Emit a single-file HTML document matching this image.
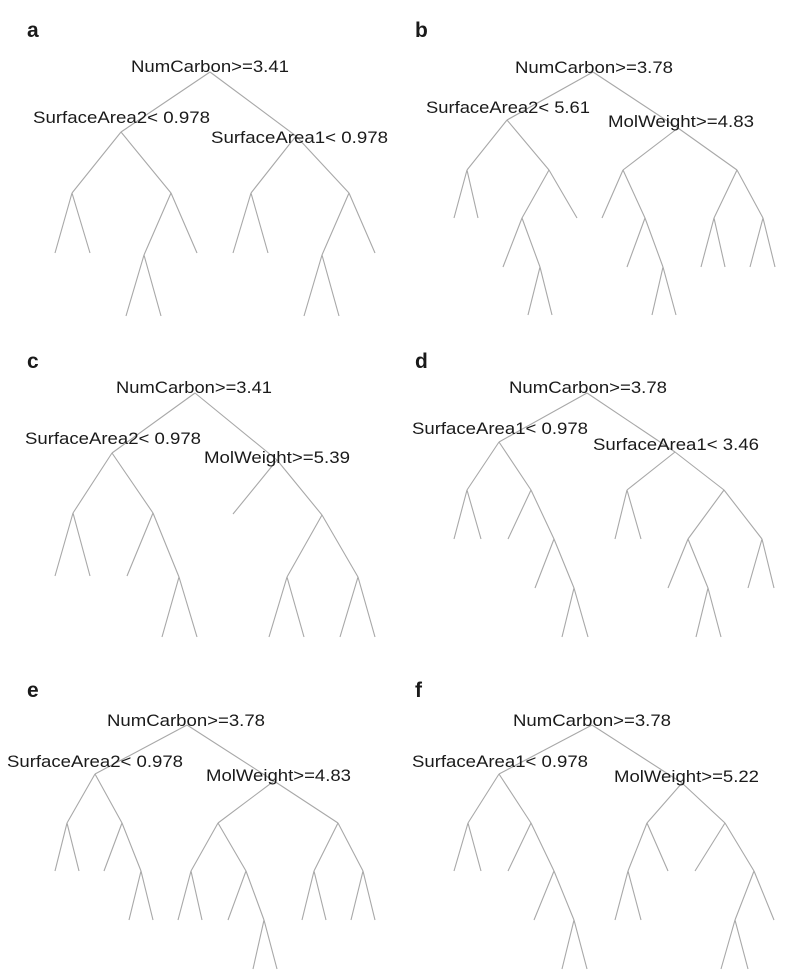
<!DOCTYPE html>
<html><head><meta charset="utf-8"><style>
html,body{margin:0;padding:0;background:#fff;}
svg{display:block;}
text{font-family:"Liberation Sans",Arial,sans-serif;fill:#1a1a1a;}
.t{font-size:17px;}
.p{font-size:21px;font-weight:bold;}
</style></head><body>
<svg width="790" height="973" viewBox="0 0 790 973" xmlns="http://www.w3.org/2000/svg">
<g fill="none" stroke="#a8a8a8" stroke-width="1.1">
<path d="M210 72L121 132 M210 72L296 136 M121 132L72 193 M121 132L171 193 M72 193L55 253 M72 193L90 253 M171 193L144 255 M171 193L197 253 M144 255L126 316 M144 255L161 316 M296 136L251 193 M296 136L349 193 M251 193L233 253 M251 193L268 253 M349 193L322 255 M349 193L375 253 M322 255L304 316 M322 255L339 316"/>
<path d="M593 72L507 120 M593 72L678 128 M507 120L467 170 M507 120L549 170 M467 170L454 218 M467 170L478 218 M549 170L522 218 M549 170L577 218 M522 218L503 267 M522 218L540 267 M540 267L528 315 M540 267L552 315 M678 128L623 170 M678 128L737 170 M623 170L602 218 M623 170L645 218 M645 218L627 267 M645 218L663 267 M663 267L652 315 M663 267L676 315 M737 170L714 218 M737 170L763 218 M714 218L701 267 M714 218L725 267 M763 218L750 267 M763 218L775 267"/>
<path d="M195 393L112 453 M195 393L277 460 M112 453L73 513 M112 453L153 513 M73 513L55 576 M73 513L90 576 M153 513L127 576 M153 513L179 577 M179 577L162 637 M179 577L197 637 M277 460L233 514 M277 460L322 515 M322 515L287 577 M322 515L358 577 M287 577L269 637 M287 577L304 637 M358 577L340 637 M358 577L375 637"/>
<path d="M587 393L499 442 M587 393L675 452 M499 442L467 490 M499 442L531 490 M467 490L454 539 M467 490L481 539 M531 490L508 539 M531 490L554 539 M554 539L535 588 M554 539L574 588 M574 588L562 637 M574 588L588 637 M675 452L627 490 M675 452L724 490 M627 490L615 539 M627 490L641 539 M724 490L688 539 M724 490L762 539 M688 539L668 588 M688 539L708 588 M708 588L696 637 M708 588L721 637 M762 539L748 588 M762 539L774 588"/>
<path d="M187 725L95 774 M187 725L274 781 M95 774L67 823 M95 774L122 823 M67 823L55 871 M67 823L79 871 M122 823L104 871 M122 823L141 871 M141 871L129 920 M141 871L153 920 M274 781L218 823 M274 781L338 823 M218 823L191 871 M218 823L246 871 M191 871L178 920 M191 871L202 920 M246 871L228 920 M246 871L264 920 M264 920L253 969 M264 920L277 969 M338 823L314 871 M338 823L363 871 M314 871L302 920 M314 871L326 920 M363 871L351 920 M363 871L375 920"/>
<path d="M592 725L499 774 M592 725L682 783 M499 774L468 823 M499 774L531 823 M468 823L454 871 M468 823L481 871 M531 823L508 871 M531 823L554 871 M554 871L534 920 M554 871L574 920 M574 920L562 969 M574 920L587 969 M682 783L647 823 M682 783L725 823 M647 823L628 871 M647 823L668 871 M628 871L615 920 M628 871L641 920 M725 823L695 871 M725 823L754 871 M754 871L735 920 M754 871L774 920 M735 920L721 969 M735 920L748 969"/>
</g>
<text class="p" x="27" y="37">a</text>
<text class="p" x="415" y="37">b</text>
<text class="p" x="27" y="368">c</text>
<text class="p" x="415" y="368">d</text>
<text class="p" x="27" y="697">e</text>
<text class="p" x="415" y="697">f</text>

<text class="t" x="131" y="72" textLength="158" lengthAdjust="spacingAndGlyphs">NumCarbon&gt;=3.41</text>
<text class="t" x="33" y="123" textLength="177" lengthAdjust="spacingAndGlyphs">SurfaceArea2&lt; 0.978</text>
<text class="t" x="211" y="143" textLength="177" lengthAdjust="spacingAndGlyphs">SurfaceArea1&lt; 0.978</text>

<text class="t" x="515" y="73" textLength="158" lengthAdjust="spacingAndGlyphs">NumCarbon&gt;=3.78</text>
<text class="t" x="426" y="113" textLength="164" lengthAdjust="spacingAndGlyphs">SurfaceArea2&lt; 5.61</text>
<text class="t" x="608" y="127" textLength="146" lengthAdjust="spacingAndGlyphs">MolWeight&gt;=4.83</text>

<text class="t" x="116" y="393" textLength="156" lengthAdjust="spacingAndGlyphs">NumCarbon&gt;=3.41</text>
<text class="t" x="25" y="444" textLength="176" lengthAdjust="spacingAndGlyphs">SurfaceArea2&lt; 0.978</text>
<text class="t" x="204" y="463" textLength="146" lengthAdjust="spacingAndGlyphs">MolWeight&gt;=5.39</text>

<text class="t" x="509" y="393" textLength="158" lengthAdjust="spacingAndGlyphs">NumCarbon&gt;=3.78</text>
<text class="t" x="412" y="434" textLength="176" lengthAdjust="spacingAndGlyphs">SurfaceArea1&lt; 0.978</text>
<text class="t" x="593" y="450" textLength="166" lengthAdjust="spacingAndGlyphs">SurfaceArea1&lt; 3.46</text>

<text class="t" x="107" y="726" textLength="158" lengthAdjust="spacingAndGlyphs">NumCarbon&gt;=3.78</text>
<text class="t" x="7" y="767" textLength="176" lengthAdjust="spacingAndGlyphs">SurfaceArea2&lt; 0.978</text>
<text class="t" x="206" y="781" textLength="145" lengthAdjust="spacingAndGlyphs">MolWeight&gt;=4.83</text>

<text class="t" x="513" y="726" textLength="158" lengthAdjust="spacingAndGlyphs">NumCarbon&gt;=3.78</text>
<text class="t" x="412" y="767" textLength="176" lengthAdjust="spacingAndGlyphs">SurfaceArea1&lt; 0.978</text>
<text class="t" x="614" y="782" textLength="145" lengthAdjust="spacingAndGlyphs">MolWeight&gt;=5.22</text>
</svg>
</body></html>
